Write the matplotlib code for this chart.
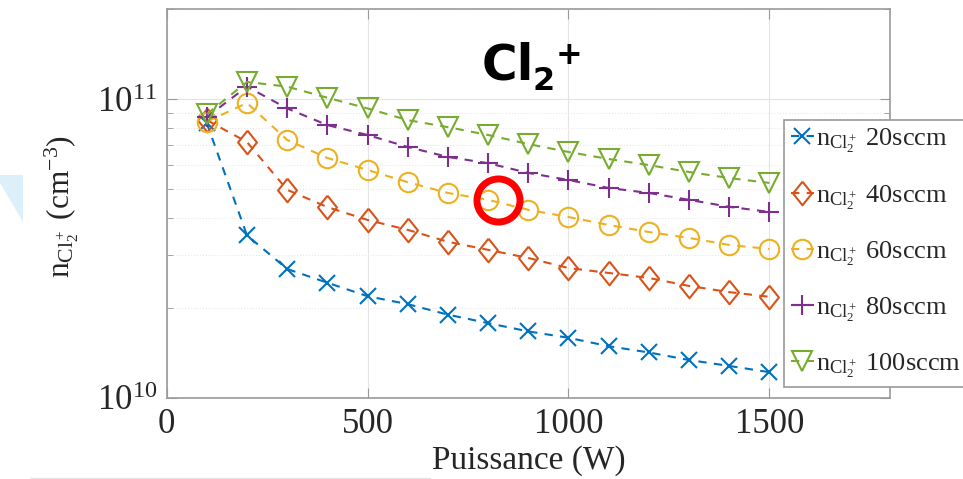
import matplotlib
matplotlib.use('Agg')
import matplotlib.pyplot as plt
import matplotlib.transforms as mtransforms
from matplotlib.patches import Polygon
from matplotlib.lines import Line2D
from matplotlib.ticker import NullFormatter

plt.rcParams['font.family'] = ['Liberation Serif', 'DejaVu Serif']
plt.rcParams['mathtext.fontset'] = 'custom'
plt.rcParams['mathtext.rm'] = 'Liberation Serif'
plt.rcParams['mathtext.it'] = 'Liberation Serif:italic'
plt.rcParams['mathtext.bf'] = 'Liberation Serif:bold'

# données
puissance = [100, 200, 300, 400, 500, 600, 700, 800, 900, 1000, 1100, 1200, 1300, 1400, 1500]
n_20 = [8.3e10, 3.5e10, 2.7e10, 2.43e10, 2.19e10, 2.06e10, 1.9e10, 1.78e10,
        1.67e10, 1.59e10, 1.49e10, 1.42e10, 1.34e10, 1.28e10, 1.22e10]
n_40 = [8.5e10, 7.18e10, 4.97e10, 4.35e10, 3.94e10, 3.65e10, 3.33e10, 3.13e10,
        2.94e10, 2.72e10, 2.62e10, 2.52e10, 2.37e10, 2.26e10, 2.18e10]
n_60 = [8.4e10, 9.7e10, 7.3e10, 6.35e10, 5.79e10, 5.27e10, 4.85e10, 4.6e10,
        4.26e10, 4.03e10, 3.79e10, 3.59e10, 3.43e10, 3.25e10, 3.15e10]
n_80 = [8.7e10, 1.1e11, 9.3e10, 8.18e10, 7.58e10, 6.91e10, 6.4e10, 6.1e10,
        5.66e10, 5.36e10, 5.04e10, 4.85e10, 4.6e10, 4.36e10, 4.19e10]
n_100 = [8.9e10, 1.14e11, 1.1e11, 1.01e11, 9.3e10, 8.5e10, 8.05e10, 7.58e10,
         7.07e10, 6.65e10, 6.3e10, 6.01e10, 5.7e10, 5.44e10, 5.24e10]
debits = ['20sccm', '40sccm', '60sccm', '80sccm', '100sccm']
x_ticks = [0, 500, 1000, 1500]

series = [n_20, n_40, n_60, n_80, n_100]
couleurs = ['#0072BD', '#D95319', '#EDB120', '#7E2F8E', '#77AC30']
losange = [(0, 1), (0.8, 0), (0, -1), (-0.8, 0), (0, 1)]
marqueurs = ['x', losange, 'o', '+', 'v']
tailles = [12, 17, 14, 15, 15]

W, H = 963, 479
fig = plt.figure(figsize=(W / 100, H / 100), dpi=100)
ax = fig.add_axes([166.6 / W, 1 - 398 / H, (890 - 166.6) / W, (398 - 9) / H])

for y, c, m, s, d in zip(series, couleurs, marqueurs, tailles, debits):
    ax.plot(puissance, y, linestyle='--', dashes=(4, 3.5), color=c, lw=1.5,
            marker=m, markersize=s, markerfacecolor='none',
            markeredgewidth=1.5, label=r'$\mathrm{n_{Cl_2^+}}$ ' + d)

# cercle rouge autour du point 800 W / 60 sccm
decal = mtransforms.offset_copy(ax.transData, fig=fig, x=7, y=0, units='points')
ax.plot(puissance[7], n_60[7], 'o', ms=31, mfc='none', mec='#ff0000', mew=5,
        transform=decal, zorder=10)

ax.set_yscale('log')
ax.set_xlim(0, 1800)
ax.set_ylim(1e10, 2e11)
ax.set_xticks(x_ticks)
ax.yaxis.set_minor_formatter(NullFormatter())

ax.grid(which='major', color='#e4e4e4', lw=0.8)
ax.grid(which='minor', axis='y', color='#e8e8e8', ls=':', lw=0.8)
ax.set_axisbelow(True)

for sp in ax.spines.values():
    sp.set_color('#9a9a9a')
    sp.set_linewidth(1.2)
ax.tick_params(which='both', direction='in', top=True, right=True,
               color='#9a9a9a', labelcolor='#262626', labelsize=25)
ax.tick_params(which='major', length=7, pad=7)
ax.tick_params(which='minor', length=4)

fig.text(529 / W, 1 - 461 / H, 'Puissance (W)', fontsize=24, color='#262626',
         ha='center', va='center')
fig.text(62 / W, 1 - 207 / H, r'$\mathrm{n_{Cl_2^+}}$ (cm$^{-3}$)', fontsize=22.5,
         color='#262626', rotation=90, ha='center', va='center')

leg = ax.legend(loc='upper left', bbox_to_anchor=(784 / W, 1 - 120 / H),
                bbox_transform=fig.transFigure, fontsize=19, frameon=True,
                fancybox=False, edgecolor='#9a9a9a', framealpha=1,
                handlelength=0.9, handletextpad=0.05, borderpad=0.25,
                labelspacing=1.04, borderaxespad=0)
leg.get_frame().set_linewidth(1.2)
for t in leg.get_texts():
    t.set_color('#262626')

# titre Cl2+
fig.text(482 / W, 1 - 80 / H, 'Cl', fontsize=35, fontweight='bold',
         family='DejaVu Sans', ha='left', va='baseline')
fig.text(532 / W, 1 - 90 / H, '2', fontsize=23, fontweight='bold',
         family='DejaVu Sans', ha='left', va='baseline')
fig.text(556 / W, 1 - 55 / H, '+', fontsize=23, fontweight='bold',
         family='DejaVu Sans', ha='left', va='center')

# artefacts de la capture
fig.patches.append(Polygon([(0, 1 - 175 / H), (23 / W, 1 - 175 / H),
                            (23 / W, 1 - 222 / H), (0, 1 - 183 / H)],
                           closed=True, transform=fig.transFigure,
                           facecolor='#ddf0f9', edgecolor='none'))
fig.add_artist(Line2D([30 / W, 430 / W], [1 - 478 / H, 1 - 478 / H],
                      color='#e6e6e6', lw=1, transform=fig.transFigure))

fig.savefig('out.png', dpi=100)
